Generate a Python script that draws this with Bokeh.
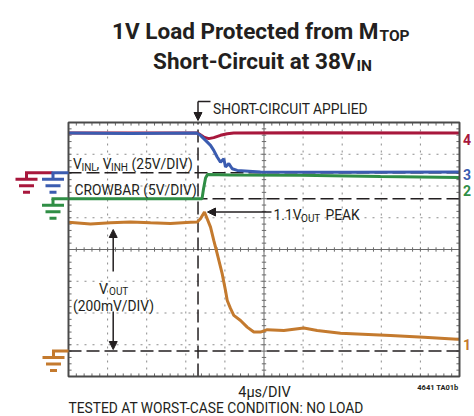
import numpy as np
from bokeh.plotting import figure
from bokeh.models import Range1d, Label, Arrow, NormalHead
from bokeh.embed import file_html
from bokeh.resources import INLINE

# ---------------- data (time in µs, voltages in V) ----------------
t_vout = [0, 2.25, 4.3, 6.34, 8.39, 10.43, 12.48, 13.17, 13.5, 13.91, 14.53, 14.86,
          15.21, 15.72, 16.06, 16.24, 16.57, 16.91, 17.6, 18.28, 18.96, 19.64, 20.33,
          22.03, 24.07, 25.44, 27.83, 32.94, 36.35, 39.76, 40]
v_vout = [0.811, 0.801, 0.808, 0.814, 0.808, 0.804, 0.811, 0.813, 0.834, 0.876, 0.781,
          0.697, 0.614, 0.488, 0.382, 0.319, 0.269, 0.225, 0.193, 0.151, 0.120, 0.120,
          0.135, 0.130, 0.145, 0.130, 0.113, 0.099, 0.088, 0.074, 0.074]

t_crow = [0, 13.4, 13.66, 13.81, 14.02, 14.22, 16.57, 23.73, 31.92, 40]
v_crow = [0, 0, 0.0, 1.53, 3.26, 3.81, 3.73, 3.69, 3.50, 3.34]

t_vinl = [0, 6.34, 13.1, 13.5, 14.02, 14.53, 14.86, 15.21, 15.55, 15.89, 16.06, 16.4,
          16.75, 17.26, 19.64, 28.85, 40]
v_vinl = [31.2, 30.9, 31.2, 29.4, 25.4, 21.5, 17.6, 12.3, 8.3, 11.0, 4.4, 7.1,
          3.1, 1.8, 0.6, 0.4, 0.6]

t_vinh = [0, 13.1, 13.33, 13.84, 14.35, 14.86, 15.55, 16.24, 16.91, 23.73, 40]
v_vinh = [31.2, 31.2, 30.7, 28.0, 26.8, 27.6, 29.4, 30.7, 31.3, 31.5, 31.2]

# scope settings: divisions and ground markers (in divisions from the bottom)
US_PER_DIV = 4.0
N_XDIV, N_YDIV = 10, 8
T_SHORT = 13.25
VOUT_SCALE, VOUT_GND = 0.2, 0.8
CROW_SCALE, CROW_GND = 5.0, 5.6
VIN_SCALE, VIN_GND = 25.0, 6.42

RED, BLUE, GREEN, ORANGE = "#a8173c", "#3b5cb0", "#2f8e45", "#c47a2e"
INK = "#231f20"
GRID = "#8c8c8c"
FONT = "Roboto"

XMAX = N_XDIV * US_PER_DIV
# screen layout of the scope screen (pixels)
SX0, SX1, SY0, SY1 = 68.0, 459.0, 122.0, 376.0
W, H = 474, 416


def X(px):
    return (px - SX0) / (SX1 - SX0) * XMAX


def Y(py):
    return (SY1 - py) / (SY1 - SY0) * N_YDIV


p = figure(width=W, height=H, output_backend="svg", toolbar_location=None,
           x_range=Range1d(X(0), X(W)), y_range=Range1d(Y(H), Y(0)),
           x_axis_type=None, y_axis_type=None, min_border=0,
           min_border_left=0, min_border_right=0, min_border_top=0, min_border_bottom=0)
p.title.visible = False
p.outline_line_color = None
p.background_fill_color = "white"
p.border_fill_color = "white"

# dotted graticule
gx, gy = [], []
for i in range(1, N_XDIV):
    if i != N_XDIV // 2:
        gx.append([i * US_PER_DIV, i * US_PER_DIV]); gy.append([0, N_YDIV])
p.multi_line(gx, gy, line_color=GRID, line_width=1, line_dash="2 5")
gx, gy = [], []
for j in range(1, N_YDIV):
    if j != N_YDIV // 2:
        gx.append([0, XMAX]); gy.append([j, j])
p.multi_line(gx, gy, line_color=GRID, line_width=1, line_dash="2 6")

# centre cross
p.segment(x0=[XMAX / 2, 0], y0=[0, N_YDIV / 2], x1=[XMAX / 2, XMAX], y1=[N_YDIV, N_YDIV / 2],
          line_color="#6a6a6a", line_width=1)

# minor tick marks on centre lines and frame edges
dx = 2.2 / (SX1 - SX0) * XMAX
dy = 2.2 / (SY1 - SY0) * N_YDIV
xs, ys = [], []
for t in np.arange(0, XMAX + 1e-6, US_PER_DIV / 5):
    xs += [[t, t], [t, t], [t, t]]
    ys += [[N_YDIV / 2 - dy, N_YDIV / 2 + dy], [0, dy * 1.4], [N_YDIV, N_YDIV - dy * 1.4]]
for yv in np.arange(0, N_YDIV + 1e-6, 0.2):
    xs += [[XMAX / 2 - dx, XMAX / 2 + dx], [0, dx * 1.4], [XMAX, XMAX - dx * 1.4]]
    ys += [[yv, yv], [yv, yv], [yv, yv]]
p.multi_line(xs, ys, line_color="#6a6a6a", line_width=1)

# ground / trigger dashed markers
p.segment(x0=[0, 0, 0, T_SHORT], y0=[VIN_GND, CROW_GND, VOUT_GND, 0],
          x1=[XMAX, XMAX, XMAX, T_SHORT], y1=[VIN_GND, CROW_GND, VOUT_GND, N_YDIV],
          line_color=INK, line_width=1.5, line_dash="13 5")

# traces
p.line(t_vout, VOUT_GND + np.array(v_vout) / VOUT_SCALE, line_color=ORANGE, line_width=3)
p.line(t_crow, CROW_GND + np.array(v_crow) / CROW_SCALE, line_color=GREEN, line_width=3)
p.line(t_vinh, VIN_GND + np.array(v_vinh) / VIN_SCALE, line_color=RED, line_width=3)
p.line(t_vinl, VIN_GND + np.array(v_vinl) / VIN_SCALE, line_color=BLUE, line_width=3)

# scope frame
p.quad(left=[0], right=[XMAX], bottom=[0], top=[N_YDIV], fill_color=None,
       line_color="#4a4a4a", line_width=2)


def seg(x0, y0, x1, y1, color=INK, w=3):
    p.segment(x0=[X(x0)], y0=[Y(y0)], x1=[X(x1)], y1=[Y(y1)], line_color=color, line_width=w)


def arrow(x0, y0, x1, y1):
    p.add_layout(Arrow(end=NormalHead(size=8, fill_color=INK, line_color=INK), x_start=X(x0), y_start=Y(y0),
                       x_end=X(x1), y_end=Y(y1), line_color=INK, line_width=1.5))


def py_of(div):
    return SY1 - div / N_YDIV * (SY1 - SY0)


def ground(xc, ylev, x_from, x_to, color):
    seg(x_from, ylev, x_to, ylev, color)
    seg(xc, ylev, xc, ylev + 6.5, color)
    seg(xc - 11, ylev + 6.5, xc + 11, ylev + 6.5, color)
    seg(xc - 7.5, ylev + 13, xc + 7.5, ylev + 13, color)
    seg(xc - 3.5, ylev + 19.5, xc + 3.5, ylev + 19.5, color)


ground(26, py_of(VIN_GND), 24.5, 52, RED)
ground(52.5, py_of(VIN_GND), 51, 68, BLUE)
ground(52.5, py_of(CROW_GND), 51, 68, GREEN)
ground(53, py_of(VOUT_GND), 51.5, 68, ORANGE)


def txt(s, px, py, size, bold=False, color=INK, align="left"):
    p.add_layout(Label(x=X(px), y=Y(py), text=s, text_font=FONT, text_font_size=f"{size}px",
                       text_font_style="bold" if bold else "normal", text_color=color,
                       text_baseline="alphabetic", text_align=align))


S = 13.8   # body text size
SS = 10    # subscript size

# title
txt("1V Load Protected from M", 378, 30, 22.5, bold=True, align="right")
txt("TOP", 379, 35.5, 15.5, bold=True)
txt("Short-Circuit at 38V", 355, 60, 22.5, bold=True, align="right")
txt("IN", 356, 65.5, 15.5, bold=True)

# annotations
txt("SHORT-CIRCUIT APPLIED", 212.5, 108.5, S)
seg(197.5, 101, 210, 101, INK, 1.5)
arrow(197.5, 101, 197.5, 120)

txt("V", 72.5, 163.5, S)
txt("INL", 81, 166.5, SS)
txt(", V", 96, 163.5, S)
txt("INH", 110.5, 166.5, SS)
txt("(25V/DIV)", 131, 163.5, S)
txt("CROWBAR (5V/DIV)", 74, 189.5, S)

txt("1.1V", 273, 214.5, S)
txt("OUT", 300.5, 217.5, SS)
txt("PEAK", 325, 214.5, S)
arrow(271, 211.5, 207, 211.5)

txt("V", 98.5, 288, S)
txt("OUT", 108.5, 291, SS)
txt("(200mV/DIV)", 113, 305, S, align="center")
arrow(112.7, 271, 112.7, 229)
arrow(112.7, 311, 112.7, 349)

txt("4\u00b5s/DIV", 264, 391.5, 14.5, align="center")
txt("4641 TA01b", 458, 386.5, 7.5, bold=True, align="right")
txt("TESTED AT WORST-CASE CONDITION: NO LOAD", 68, 407, S)

# trace numbers
txt("4", 462.5, 138.5, 14, bold=True, color=RED)
txt("3", 462.5, 173.5, 14, bold=True, color=BLUE)
txt("2", 462.5, 190, 14, bold=True, color=GREEN)
txt("1", 462.5, 344, 14, bold=True, color=ORANGE)

open("out.html", "w").write(file_html(p, INLINE))
